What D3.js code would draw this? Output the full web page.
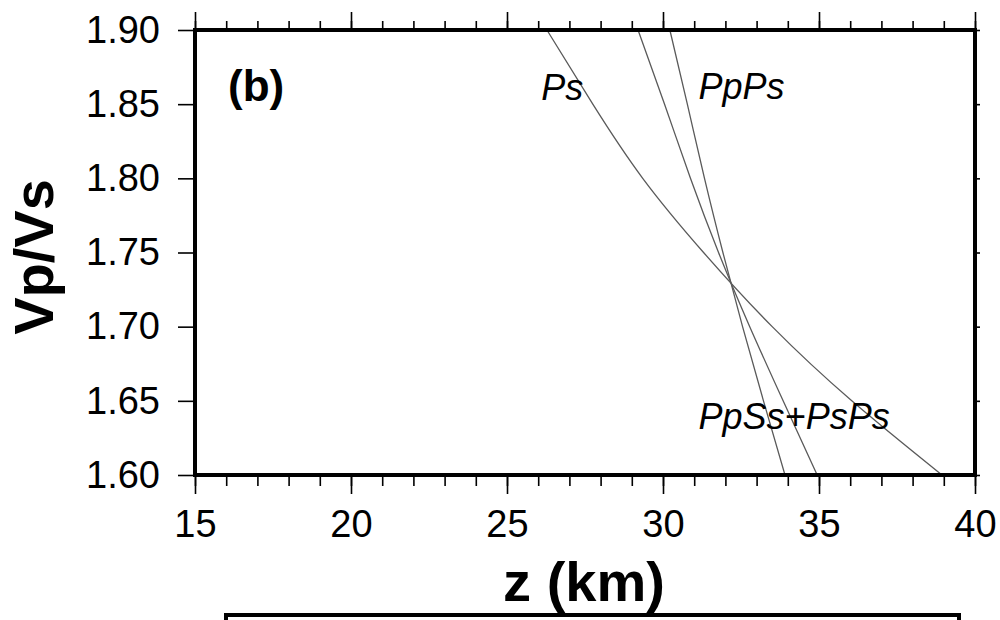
<!DOCTYPE html>
<html>
<head>
<meta charset="utf-8">
<script src="https://cdn.jsdelivr.net/npm/d3@7"></script>
<style>
  body { margin: 0; background: #fff; }
  text { font-family: "Liberation Sans", Arial, Helvetica, sans-serif; }
</style>
</head>
<body>
<svg id="canvas"></svg>
<script>
let ratios = [1.90, 1.85, 1.80, 1.75, 1.70, 1.65, 1.60];

// depth z (km) for each phase at those ratios
let psDepth = [26.28, 27.75, 29.35, 31.30, 33.50, 36.05, 38.94];
let ppPsDepth = [30.22, 30.78, 31.33, 31.92, 32.55, 33.22, 33.91];
let ppSsDepth = [29.20, 30.05, 30.88, 31.78, 32.78, 33.85, 34.94];

let xTicks = [15, 20, 25, 30, 35, 40];
let xMinor = d3.range(15, 41, 1);
let yTicks = [1.60, 1.65, 1.70, 1.75, 1.80, 1.85, 1.90];

let width = 1000;
let height = 620;
let plotLeft = 195, plotRight = 975, plotTop = 30, plotBottom = 475;

let canvas = d3.select("#canvas");
canvas.attr("width", width).attr("height", height);

let xScale = d3.scaleLinear().domain([15, 40]).range([plotLeft, plotRight]);
let yScale = d3.scaleLinear().domain([1.60, 1.90]).range([plotBottom, plotTop]);

let styleAxis = (g) => {
    g.select(".domain").remove();
    g.selectAll(".tick line").attr("stroke", "#000").attr("stroke-width", 1.6);
    g.selectAll(".tick text")
        .attr("fill", "#000")
        .style("font-size", "38px")
        .style("font-family", "'Liberation Sans', Arial, sans-serif");
};

let drawAxes = () => {
    // bottom, minor then major with labels
    canvas.append("g")
        .attr("transform", "translate(0," + plotBottom + ")")
        .call(d3.axisBottom(xScale).tickValues(xMinor).tickSize(11).tickFormat(""))
        .call(styleAxis);
    canvas.append("g")
        .attr("transform", "translate(0," + plotBottom + ")")
        .call(d3.axisBottom(xScale).tickValues(xTicks).tickSize(19).tickPadding(16).tickFormat(d3.format("d")))
        .call(styleAxis);

    // top, ticks only
    canvas.append("g")
        .attr("transform", "translate(0," + plotTop + ")")
        .call(d3.axisTop(xScale).tickValues(xMinor).tickSize(9).tickFormat(""))
        .call(styleAxis);
    canvas.append("g")
        .attr("transform", "translate(0," + plotTop + ")")
        .call(d3.axisTop(xScale).tickValues(xTicks).tickSize(18).tickFormat(""))
        .call(styleAxis);

    canvas.append("g")
        .attr("transform", "translate(" + plotLeft + ",0)")
        .call(d3.axisLeft(yScale).tickValues(yTicks).tickSize(17).tickPadding(18).tickFormat(d3.format(".2f")))
        .call(styleAxis);

    canvas.append("g")
        .attr("transform", "translate(" + plotRight + ",0)")
        .call(d3.axisRight(yScale).tickValues(yTicks).tickSize(5).tickFormat(""))
        .call(styleAxis);
};

let drawCurves = () => {
    let line = d3.line()
        .x(d => xScale(d[0]))
        .y(d => yScale(d[1]))
        .curve(d3.curveNatural);

    [psDepth, ppPsDepth, ppSsDepth].forEach(depths => {
        canvas.append("path")
            .datum(depths.map((z, i) => [z, ratios[i]]))
            .attr("d", line)
            .attr("fill", "none")
            .attr("stroke", "#5a5a5a")
            .attr("stroke-width", 1.3);
    });

    let labels = [
        { text: "Ps", z: 26.1, r: 1.8530 },
        { text: "PpPs", z: 31.14, r: 1.8535 },
        { text: "PpSs+PsPs", z: 31.14, r: 1.6310 }
    ];
    canvas.selectAll(".phase")
        .data(labels)
        .enter()
        .append("text")
        .attr("class", "phase")
        .attr("x", d => xScale(d.z))
        .attr("y", d => yScale(d.r))
        .style("font-size", "36px")
        .style("font-style", "italic")
        .attr("fill", "#000")
        .text(d => d.text);
};

let drawFrame = () => {
    canvas.append("rect")
        .attr("x", plotLeft).attr("y", plotTop)
        .attr("width", plotRight - plotLeft).attr("height", plotBottom - plotTop)
        .attr("fill", "none")
        .attr("stroke", "#000")
        .attr("stroke-width", 4);

    canvas.append("text")
        .attr("x", 228).attr("y", 101)
        .style("font-size", "44px")
        .style("font-weight", "bold")
        .text("(b)");

    canvas.append("text")
        .attr("x", (plotLeft + plotRight) / 2 - 1).attr("y", 601)
        .attr("text-anchor", "middle")
        .style("font-size", "56px")
        .style("font-weight", "bold")
        .text("z (km)");

    canvas.append("text")
        .attr("transform", "translate(53,257) rotate(-90)")
        .attr("text-anchor", "middle")
        .style("font-size", "56px")
        .style("font-weight", "bold")
        .text("Vp/Vs");

    // box below, cut by the page edge
    canvas.append("rect")
        .attr("x", 226).attr("y", 615)
        .attr("width", 733).attr("height", 40)
        .attr("fill", "none")
        .attr("stroke", "#000")
        .attr("stroke-width", 4);
};

drawAxes();
drawCurves();
drawFrame();
</script>
</body>
</html>
